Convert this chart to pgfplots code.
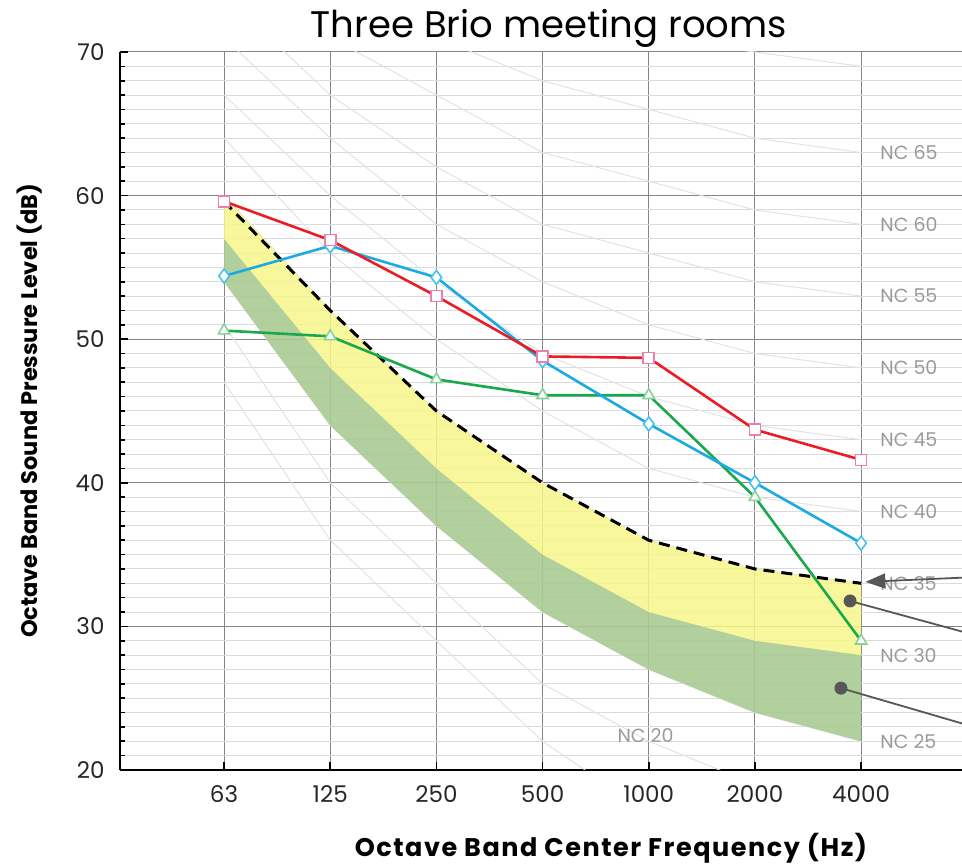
\documentclass[border=0pt]{standalone}
\usepackage{fontspec}
\setmainfont{Poppins}
\usepackage{pgfplots}
\pgfplotsset{compat=1.18}
\usetikzlibrary{arrows.meta}
\definecolor{redl}{HTML}{EC1C24}
\definecolor{bluel}{HTML}{1CAAE2}
\definecolor{greenl}{HTML}{19A84B}
\definecolor{pinkm}{HTML}{EA7FB0}
\definecolor{bluem}{HTML}{45C3EC}
\definecolor{greenm}{HTML}{86D39A}
\definecolor{yellowf}{HTML}{F7F68A}
\definecolor{greenf}{HTML}{A9CB93}
\definecolor{ncgray}{HTML}{E2E2E2}
\definecolor{nctext}{HTML}{9A9A9A}
\definecolor{arrowc}{HTML}{575757}
\tikzset{nclab/.style={anchor=west, text=nctext, font=\fontsize{19}{19}\selectfont, inner sep=0pt}}
\begin{document}
\begin{tikzpicture}
\begin{axis}[
  at={(0,0)}, anchor=south west,
  scale only axis, width=842pt, height=718pt,
  xmin=-0.98, xmax=6.95, ymin=20, ymax=70,
  axis x line*=bottom, axis y line*=left,
  axis line style={black, line width=2pt},
  xtick={0,1,2,3,4,5,6},
  xticklabels={63,125,250,500,1000,2000,4000},
  ytick={20,30,40,50,60,70},
  minor ytick={21,...,29,31,32,...,39,41,42,...,49,51,52,...,59,61,62,...,69},
  tick align=inside,
  major tick length=8pt, minor tick length=5pt,
  tick style={black, line width=1.6pt},
  xmajorgrids, ymajorgrids, yminorgrids,
  major grid style={color=black!48, line width=1pt},
  minor grid style={color=black!14, line width=1pt},
  /pgf/number format/assume math mode=true,
  ticklabel style={font=\fontsize{23}{23}\selectfont, text=black!85},
  xticklabel style={yshift=-12pt},
  yticklabel style={xshift=-12pt},
  clip mode=individual,
]
% NC background curves
\addplot[ncgray, line width=1pt] coordinates {(0,47) (1,36) (2,29) (3,22) (4,17) (5,14) (6,12)};
\addplot[ncgray, line width=1pt] coordinates {(0,51) (1,40) (2,33) (3,26) (4,22) (5,19) (6,17)};
\addplot[ncgray, line width=1pt] coordinates {(0,54) (1,44) (2,37) (3,31) (4,27) (5,24) (6,22)};
\addplot[ncgray, line width=1pt] coordinates {(0,57) (1,48) (2,41) (3,35) (4,31) (5,29) (6,28)};
\addplot[ncgray, line width=1pt] coordinates {(0,60) (1,52) (2,45) (3,40) (4,36) (5,34) (6,33)};
\addplot[ncgray, line width=1pt] coordinates {(0,64) (1,56) (2,50) (3,45) (4,41) (5,39) (6,38)};
\addplot[ncgray, line width=1pt] coordinates {(0,67) (1,60) (2,54) (3,49) (4,46) (5,44) (6,43)};
\addplot[ncgray, line width=1pt] coordinates {(0,71) (1,64) (2,58) (3,54) (4,51) (5,49) (6,48)};
\addplot[ncgray, line width=1pt] coordinates {(0,74) (1,67) (2,62) (3,58) (4,56) (5,54) (6,53)};
\addplot[ncgray, line width=1pt] coordinates {(0,77) (1,71) (2,67) (3,63) (4,61) (5,59) (6,58)};
\addplot[ncgray, line width=1pt] coordinates {(0,80) (1,75) (2,71) (3,68) (4,66) (5,64) (6,63)};
\addplot[ncgray, line width=1pt] coordinates {(0,83) (1,79) (2,75) (3,72) (4,71) (5,70) (6,69)};
% bands
\addplot[draw=none, fill=greenf, fill opacity=0.9] coordinates {
 (0,57) (1,48) (2,41) (3,35) (4,31) (5,29) (6,28)
 (6,22) (5,24) (4,27) (3,31) (2,37) (1,44) (0,54)} -- cycle;
\addplot[draw=none, fill=yellowf, fill opacity=0.85] coordinates {
 (0,60) (1,52) (2,45) (3,40) (4,36) (5,34) (6,33)
 (6,28) (5,29) (4,31) (3,35) (2,41) (1,48) (0,57)} -- cycle;
% NC 35 dashed
\addplot[black, line width=3pt, dash pattern=on 11pt off 7pt] coordinates {
 (0,59.6) (1,52) (2,45) (3,40) (4,36) (5,34) (6,33)};
% rooms
\addplot[greenl, line width=2.6pt, mark=triangle*, mark size=6.5pt,
  mark options={fill=white, draw=greenm, line width=1.6pt}] coordinates {
 (0,50.6) (1,50.2) (2,47.2) (3,46.1) (4,46.1) (5,39.0) (6,29.0)};
\addplot[bluel, line width=2.6pt, mark=diamond*, mark size=7pt,
  mark options={fill=white, draw=bluem, line width=1.6pt}] coordinates {
 (0,54.4) (1,56.5) (2,54.3) (3,48.5) (4,44.1) (5,40.0) (6,35.8)};
\addplot[redl, line width=2.6pt, mark=square*, mark size=5.5pt,
  mark options={fill=white, draw=pinkm, line width=1.6pt}] coordinates {
 (0,59.6) (1,56.9) (2,53.0) (3,48.8) (4,48.7) (5,43.7) (6,41.6)};
% NC labels
\node[nclab] at (axis cs:6.18,63) {NC 65};
\node[nclab] at (axis cs:6.18,58) {NC 60};
\node[nclab] at (axis cs:6.18,53) {NC 55};
\node[nclab] at (axis cs:6.18,48) {NC 50};
\node[nclab] at (axis cs:6.18,43) {NC 45};
\node[nclab] at (axis cs:6.18,38) {NC 40};
\node[nclab] at (axis cs:6.18,33) {NC 35};
\node[nclab] at (axis cs:6.18,28) {NC 30};
\node[nclab] at (axis cs:6.18,22) {NC 25};
\node[nclab, anchor=center] at (axis cs:3.97,22.4) {NC 20};
% annotation arrows
\draw[arrowc, line width=1.8pt, -{Triangle[length=20pt, width=15pt]}]
  (axis cs:6.97,33.4) -- (axis cs:6.04,33.1);
\draw[arrowc, line width=1.8pt] (axis cs:5.896,31.77) -- (axis cs:6.97,29.6);
\fill[arrowc] (axis cs:5.896,31.77) circle (6.5pt);
\draw[arrowc, line width=1.8pt] (axis cs:5.81,25.7) -- (axis cs:6.97,23.2);
\fill[arrowc] (axis cs:5.81,25.7) circle (6.5pt);
\end{axis}
\node[font=\fontsize{37}{37}\selectfont] at (429pt,742pt) {Three Brio meeting rooms};
\node[anchor=base, inner sep=0pt, font=\bfseries\fontsize{25.5}{25.5}\selectfont\addfontfeature{LetterSpace=6}] at (491pt,-87pt) {Octave Band Center Frequency (Hz)};
\node[font=\bfseries\fontsize{22.5}{22.5}\selectfont, rotate=90] at (-90pt,359pt) {Octave Band Sound Pressure Level (dB)};
\pgfresetboundingbox
\useasboundingbox (-120pt,-95pt) rectangle (842pt,770pt);
\end{tikzpicture}
\end{document}
